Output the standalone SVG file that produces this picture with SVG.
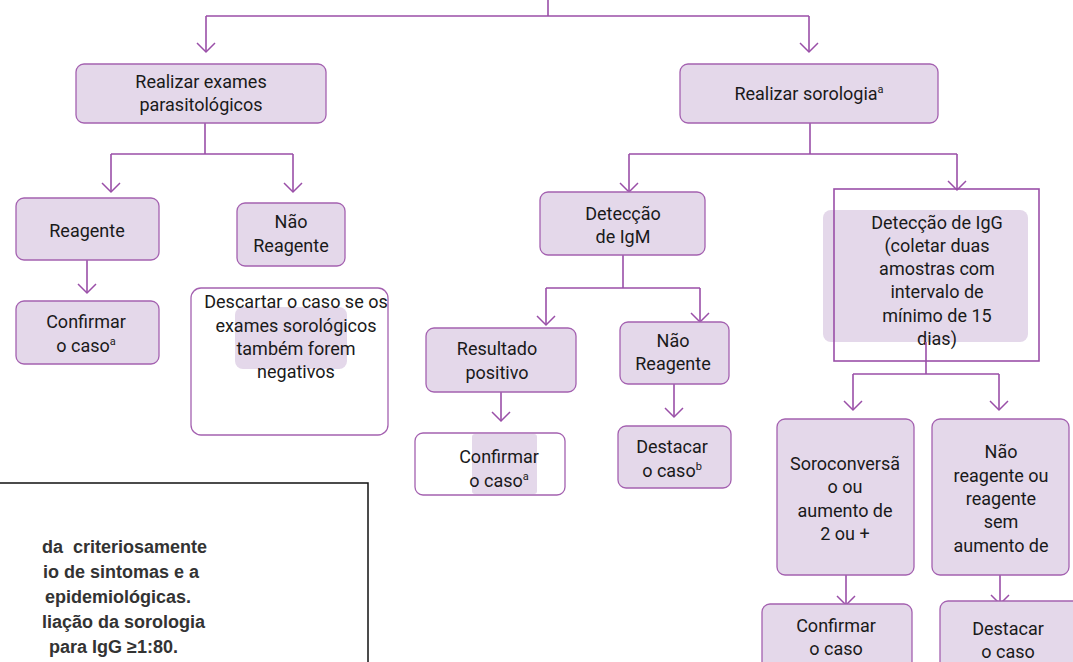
<svg xmlns="http://www.w3.org/2000/svg" width="1073" height="662" viewBox="0 0 1073 662">
<style>
.box{fill:#e4d8ea;stroke:#a461b0;stroke-width:1.3}
.wbox{fill:#ffffff;stroke:#a461b0;stroke-width:1.3}
.sq{fill:none;stroke:#9a4fa8;stroke-width:1.6}
.inner{fill:#e4d8ea;stroke:none}
.c{fill:none;stroke:#9a4fa8;stroke-width:1.6}
.a{fill:none;stroke:#9a4fa8;stroke-width:1.6;marker-end:url(#arr)}
.t{font-family:Roboto,"DejaVu Sans",sans-serif;font-size:18px;fill:#1a1a1a;text-anchor:middle}
.n{font-family:"Liberation Sans",Arial,sans-serif;font-size:18px;font-weight:bold;fill:#333333;white-space:pre}
</style>
<defs>
<marker id="arr" markerUnits="userSpaceOnUse" markerWidth="20" markerHeight="20" refX="9" refY="9" orient="auto" viewBox="0 0 20 20" overflow="visible">
<path d="M0,0 L9,9 L0,18" fill="none" stroke="#9a4fa8" stroke-width="1.5"/>
</marker>
</defs>
<rect width="1073" height="662" fill="#ffffff"/>

<g id="connectors">
<path class="c" d="M548,0 V16 M206,16 H809"/>
<path class="a" d="M206,16 V52"/>
<path class="a" d="M809,16 V52"/>
<path class="c" d="M205,123 V154 M111,154 H293"/>
<path class="a" d="M111,154 V192"/>
<path class="a" d="M293,154 V192"/>
<path class="a" d="M87,260 V293"/>
<path class="c" d="M810,123 V154 M629,154 H957"/>
<path class="a" d="M629,154 V192"/>
<path class="a" d="M957,154 V190"/>
<path class="c" d="M623,255 V288 M546,288 H700"/>
<path class="a" d="M546,288 V325"/>
<path class="a" d="M700,288 V322"/>
<path class="a" d="M501,392 V421"/>
<path class="a" d="M674,384 V417"/>
<path class="a" d="M846,575 V605"/>
<path class="a" d="M1000,575 V604"/>
</g>

<g id="node-parasitologicos">
<rect class="box" x="76" y="64" width="250" height="59" rx="8"/>
<text class="t" x="201" y="88">Realizar exames</text>
<text class="t" x="201" y="111">parasitológicos</text>
</g>

<g id="node-sorologia">
<rect class="box" x="680" y="64" width="258" height="59" rx="8"/>
<text class="t" x="809" y="100">Realizar sorologia<tspan font-size="11" dy="-7">a</tspan></text>
</g>

<g id="node-reagente">
<rect class="box" x="16" y="198" width="143" height="62" rx="8"/>
<text class="t" x="87" y="237">Reagente</text>
</g>

<g id="node-confirmar-1">
<rect class="box" x="16" y="301" width="143" height="63" rx="8"/>
<text class="t" x="86" y="328">Confirmar</text>
<text class="t" x="86" y="352">o caso<tspan font-size="11" dy="-7">a</tspan></text>
</g>

<g id="node-nao-reagente-1">
<rect class="box" x="237" y="203" width="108" height="63" rx="8"/>
<text class="t" x="291" y="228">Não</text>
<text class="t" x="291" y="252">Reagente</text>
</g>

<g id="node-descartar">
<rect class="wbox" x="191" y="288" width="197" height="147" rx="10"/>
<rect class="inner" x="235" y="307" width="112" height="62" rx="8"/>
<text class="t" x="296" y="308">Descartar o caso se os</text>
<text class="t" x="296" y="332">exames sorológicos</text>
<text class="t" x="296" y="355">também forem</text>
<text class="t" x="296" y="378">negativos</text>
</g>

<g id="node-igm">
<rect class="box" x="540" y="192" width="165" height="63" rx="8"/>
<text class="t" x="623" y="220">Detecção</text>
<text class="t" x="623" y="243">de IgM</text>
</g>

<g id="node-resultado-positivo">
<rect class="box" x="426" y="328" width="150" height="64" rx="8"/>
<text class="t" x="497" y="355">Resultado</text>
<text class="t" x="497" y="379">positivo</text>
</g>

<g id="node-nao-reagente-2">
<rect class="box" x="620" y="322" width="109" height="62" rx="8"/>
<text class="t" x="673" y="347">Não</text>
<text class="t" x="673" y="370">Reagente</text>
</g>

<g id="node-confirmar-2">
<rect class="wbox" x="415" y="433" width="150" height="62" rx="8"/>
<rect class="inner" x="472" y="434" width="65" height="60" rx="3"/>
<text class="t" x="499" y="463">Confirmar</text>
<text class="t" x="499" y="487">o caso<tspan font-size="11" dy="-7">a</tspan></text>
</g>

<g id="node-destacar-1">
<rect class="box" x="618" y="426" width="113" height="62" rx="8"/>
<text class="t" x="672" y="453">Destacar</text>
<text class="t" x="672" y="477">o caso<tspan font-size="11" dy="-7">b</tspan></text>
</g>

<g id="node-igg">
<rect class="inner" x="823" y="210" width="205" height="132" rx="8"/>
<rect class="sq" x="834" y="189" width="205" height="172"/>
<text class="t" x="937" y="229">Detecção de IgG</text>
<text class="t" x="937" y="252">(coletar duas</text>
<text class="t" x="937" y="275">amostras com</text>
<text class="t" x="937" y="298">intervalo de</text>
<text class="t" x="937" y="322">mínimo de 15</text>
<text class="t" x="937" y="345">dias)</text>
<path class="c" d="M926,342 V374 M853,374 H999"/>
<path class="a" d="M853,374 V410"/>
<path class="a" d="M999,374 V410"/>
</g>

<g id="node-soroconversao">
<rect class="box" x="777" y="419" width="137" height="156" rx="8"/>
<text class="t" x="845" y="470">Soroconversã</text>
<text class="t" x="845" y="493">o ou</text>
<text class="t" x="845" y="517">aumento de</text>
<text class="t" x="845" y="540">2 ou +</text>
</g>

<g id="node-nao-reagente-3">
<rect class="box" x="932" y="419" width="137" height="156" rx="8"/>
<text class="t" x="1001" y="458">Não</text>
<text class="t" x="1001" y="482">reagente ou</text>
<text class="t" x="1001" y="505">reagente</text>
<text class="t" x="1001" y="528">sem</text>
<text class="t" x="1001" y="552">aumento de</text>
</g>

<g id="node-confirmar-3">
<rect class="box" x="762" y="604" width="150" height="80" rx="8"/>
<text class="t" x="836" y="632">Confirmar</text>
<text class="t" x="836" y="655">o caso</text>
</g>

<g id="node-destacar-2">
<rect class="box" x="940" y="601" width="150" height="80" rx="8"/>
<text class="t" x="1008" y="635">Destacar</text>
<text class="t" x="1008" y="658">o caso</text>
</g>

<g id="note">
<rect x="-5" y="483" width="373" height="200" fill="none" stroke="#111111" stroke-width="1.5"/>
<text class="n" x="42" y="553">da  criteriosamente</text>
<text class="n" x="43" y="578">io de sintomas e a</text>
<text class="n" x="45" y="603">epidemiológicas.</text>
<text class="n" x="42" y="628">liação da sorologia</text>
<text class="n" x="44" y="653"> para IgG ≥1:80.</text>
</g>
</svg>
